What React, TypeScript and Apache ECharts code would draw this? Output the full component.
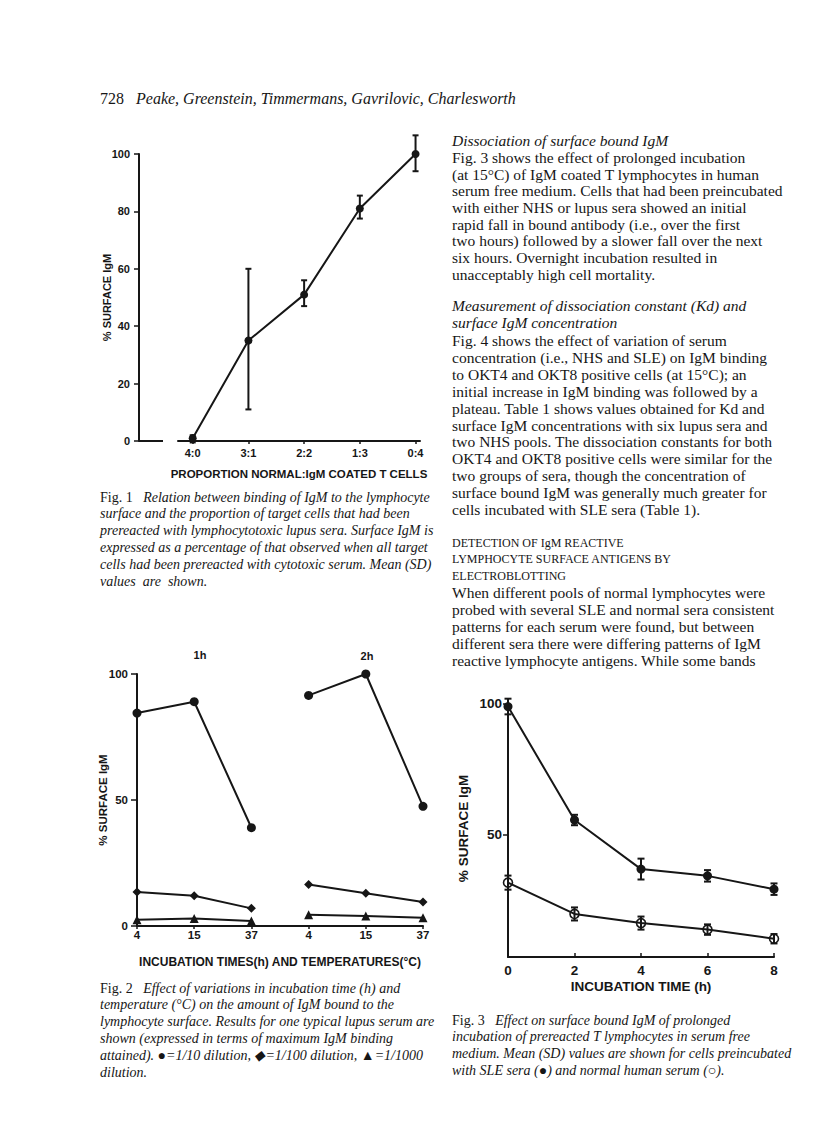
import React, { useEffect, useRef } from "react";
import * as echarts from "echarts";

// ---------- Fig. 1 data ----------
const fig1Categories = ["4:0", "3:1", "2:2", "1:3", "0:4"];
const fig1Mean = [1, 35, 51, 81, 100];
const fig1Low = [-0.5, 11, 47, 77.5, 94];
const fig1High = [2, 60, 56, 85.5, 106.5];
const fig1Positions = [0, 1, 2, 3, 4];

// ---------- Fig. 2 data ----------
const fig2Temps = ["4", "15", "37", "4", "15", "37"];
const fig2Circle1h = [84.5, 89, 39];
const fig2Circle2h = [91.5, 100, 47.5];
const fig2Diamond1h = [13.5, 12, 7];
const fig2Diamond2h = [16.5, 13, 9.5];
const fig2Triangle1h = [2.5, 3, 2];
const fig2Triangle2h = [4.5, 4, 3.3];

// ---------- Fig. 3 data ----------
const fig3Hours = [0, 2, 4, 6, 8];
const fig3SLEMean = [99, 55.5, 36.7, 34.1, 29];
const fig3SLESD = [3, 2, 4, 2.2, 2.2];
const fig3NHSMean = [31.5, 19.5, 16, 13.5, 10];
const fig3NHSSD = [2.7, 2.5, 2.5, 2, 1.8];
const fig3YTicks = [50, 100];

// ---------- page text ----------
const header = "{n|728}   Peake, Greenstein, Timmermans, Gavrilovic, Charlesworth";

const fig1Caption = [
  "{n|Fig. 1}   Relation between binding of IgM to the lymphocyte",
  "surface and the proportion of target cells that had been",
  "prereacted with lymphocytotoxic lupus sera. Surface IgM is",
  "expressed as a percentage of that observed when all target",
  "cells had been prereacted with cytotoxic serum. Mean (SD)",
  "values  are  shown.",
];
const fig2Caption = [
  "{n|Fig. 2}   Effect of variations in incubation time (h) and",
  "temperature (°C) on the amount of IgM bound to the",
  "lymphocyte surface. Results for one typical lupus serum are",
  "shown (expressed in terms of maximum IgM binding",
  "attained). ●=1/10 dilution, ◆=1/100 dilution, ▲=1/1000",
  "dilution.",
];
const fig3Caption = [
  "{n|Fig. 3}   Effect on surface bound IgM of prolonged",
  "incubation of prereacted T lymphocytes in serum free",
  "medium. Mean (SD) values are shown for cells preincubated",
  "with SLE sera (●) and normal human serum (○).",
];

type Line = { t: string; y: number; kind: "body" | "italic" | "caps" };
const bodyLines: Line[] = [
  { t: "Dissociation of surface bound IgM", y: 140, kind: "italic" },
  { t: "Fig. 3 shows the effect of prolonged incubation", y: 157, kind: "body" },
  { t: "(at 15°C) of IgM coated T lymphocytes in human", y: 174, kind: "body" },
  { t: "serum free medium. Cells that had been preincubated", y: 190, kind: "body" },
  { t: "with either NHS or lupus sera showed an initial", y: 207, kind: "body" },
  { t: "rapid fall in bound antibody (i.e., over the first", y: 224, kind: "body" },
  { t: "two hours) followed by a slower fall over the next", y: 240, kind: "body" },
  { t: "six hours. Overnight incubation resulted in", y: 257, kind: "body" },
  { t: "unacceptably high cell mortality.", y: 274, kind: "body" },
  { t: "Measurement of dissociation constant (Kd) and", y: 305, kind: "italic" },
  { t: "surface IgM concentration", y: 322, kind: "italic" },
  { t: "Fig. 4 shows the effect of variation of serum", y: 340, kind: "body" },
  { t: "concentration (i.e., NHS and SLE) on IgM binding", y: 357, kind: "body" },
  { t: "to OKT4 and OKT8 positive cells (at 15°C); an", y: 374, kind: "body" },
  { t: "initial increase in IgM binding was followed by a", y: 391, kind: "body" },
  { t: "plateau. Table 1 shows values obtained for Kd and", y: 408, kind: "body" },
  { t: "surface IgM concentrations with six lupus sera and", y: 425, kind: "body" },
  { t: "two NHS pools. The dissociation constants for both", y: 441, kind: "body" },
  { t: "OKT4 and OKT8 positive cells were similar for the", y: 458, kind: "body" },
  { t: "two groups of sera, though the concentration of", y: 475, kind: "body" },
  { t: "surface bound IgM was generally much greater for", y: 492, kind: "body" },
  { t: "cells incubated with SLE sera (Table 1).", y: 509, kind: "body" },
  { t: "DETECTION OF IgM REACTIVE", y: 543, kind: "caps" },
  { t: "LYMPHOCYTE SURFACE ANTIGENS BY", y: 559, kind: "caps" },
  { t: "ELECTROBLOTTING", y: 576, kind: "caps" },
  { t: "When different pools of normal lymphocytes were", y: 592, kind: "body" },
  { t: "probed with several SLE and normal sera consistent", y: 609, kind: "body" },
  { t: "patterns for each serum were found, but between", y: 626, kind: "body" },
  { t: "different sera there were differing patterns of IgM", y: 643, kind: "body" },
  { t: "reactive lymphocyte antigens. While some bands", y: 660, kind: "body" },
];

const INK = "#161616";
const SERIF = "'Liberation Serif', 'Times New Roman', serif";
const SANS = "'Liberation Sans', Arial, sans-serif";

const errorBar = (cap: number) => (params: any, api: any) => {
  const x = api.value(0);
  const lo = api.value(1);
  const hi = api.value(2);
  const a = api.coord([x, lo]);
  const b = api.coord([x, hi]);
  const style = { stroke: INK, lineWidth: 2 };
  return {
    type: "group",
    children: [
      { type: "line", shape: { x1: a[0], y1: a[1], x2: b[0], y2: b[1] }, style },
      { type: "line", shape: { x1: a[0] - cap, y1: a[1], x2: a[0] + cap, y2: a[1] }, style },
      { type: "line", shape: { x1: b[0] - cap, y1: b[1], x2: b[0] + cap, y2: b[1] }, style },
    ],
  };
};

const axisFont = (size: number) => ({
  color: INK,
  fontFamily: SANS,
  fontWeight: "bold" as const,
  fontSize: size,
});

function textEl(x: number, y: number, text: string, opts: any = {}) {
  return {
    type: "text",
    x,
    y,
    silent: true,
    style: {
      text,
      fill: INK,
      fontFamily: SERIF,
      fontSize: 15.5,
      align: "left",
      verticalAlign: "middle",
      ...opts,
    },
  };
}

function captionEls(x: number, y0: number, lines: string[]) {
  return lines.map((t, i) =>
    textEl(x, y0 + i * 16.8, t, {
      fontSize: 14,
      fontStyle: "italic",
      rich: { n: { fontStyle: "normal", fontSize: 14, fontFamily: SERIF, fill: INK } },
    })
  );
}

export default function App() {
  const ref = useRef<HTMLDivElement>(null);
  useEffect(() => {
    if (!ref.current) return;
    const chart = echarts.init(ref.current, undefined, { renderer: "svg" });

    const lineBase = (xi: number, data: any[], symbol: string, size: number) => ({
      type: "line",
      xAxisIndex: xi,
      yAxisIndex: xi,
      data,
      symbol,
      symbolSize: size,
      lineStyle: { color: INK, width: 2 },
      itemStyle: { color: INK },
      z: 3,
    });

    const graphic: any[] = [];
    graphic.push(
      textEl(100, 98, header, {
        fontStyle: "italic",
        fontSize: 16,
        rich: { n: { fontStyle: "normal", fontSize: 16, fontFamily: SERIF, fill: INK } },
      })
    );
    // short baseline stub beside the Fig. 1 y axis
    graphic.push({
      type: "line",
      silent: true,
      shape: { x1: 139, y1: 441, x2: 163, y2: 441 },
      style: { stroke: INK, lineWidth: 2 },
    });
    graphic.push(textEl(200, 655, "1h", { fontFamily: SANS, fontWeight: "bold", fontSize: 11, align: "center" }));
    graphic.push(textEl(367, 656, "2h", { fontFamily: SANS, fontWeight: "bold", fontSize: 11, align: "center" }));
    graphic.push(...captionEls(100, 497, fig1Caption));
    graphic.push(...captionEls(100, 988, fig2Caption));
    graphic.push(...captionEls(452, 1020, fig3Caption));
    bodyLines.forEach((l) => {
      if (l.kind === "body") graphic.push(textEl(452, l.y, l.t));
      else if (l.kind === "italic") graphic.push(textEl(452, l.y, l.t, { fontStyle: "italic" }));
      else graphic.push(textEl(452, l.y, l.t, { fontSize: 12 }));
    });

    const yName = (gap: number, size: number) => ({
      name: "% SURFACE IgM",
      nameLocation: "middle",
      nameRotate: 90,
      nameGap: gap,
      nameMoveOverlap: false,
      nameTextStyle: axisFont(size),
    });

    const option: any = {
      animation: false,
      backgroundColor: "#ffffff",
      grid: [
        { left: 178, right: 396, top: 154, bottom: 703 },
        { left: 137, right: 393, top: 674, bottom: 218 },
        { left: 508, right: 42, top: 700, bottom: 187 },
      ],
      xAxis: [
        {
          type: "value",
          gridIndex: 0,
          min: -0.264,
          max: 4.08,
          axisLine: { onZero: false, lineStyle: { color: INK, width: 2 } },
          axisTick: { customValues: fig1Positions, length: 3, lineStyle: { color: INK, width: 1.5 } },
          axisLabel: {
            customValues: fig1Positions,
            formatter: (v: number) => fig1Categories[Math.round(v)],
            margin: 6,
            ...axisFont(11),
          },
          splitLine: { show: false },
          name: "PROPORTION NORMAL:IgM COATED T CELLS",
          nameLocation: "middle",
          nameGap: 27,
          nameMoveOverlap: false,
          nameTextStyle: axisFont(11.5),
        },
        {
          type: "category",
          gridIndex: 1,
          data: fig2Temps,
          boundaryGap: false,
          axisLine: { onZero: false, lineStyle: { color: INK, width: 2 } },
          axisTick: { length: 3, lineStyle: { color: INK, width: 1.5 } },
          axisLabel: { margin: 3, interval: 0, ...axisFont(11.5) },
          name: "INCUBATION TIMES(h) AND TEMPERATURES(°C)",
          nameLocation: "middle",
          nameGap: 30,
          nameMoveOverlap: false,
          nameTextStyle: axisFont(12),
        },
        {
          type: "value",
          gridIndex: 2,
          min: 0,
          max: 8,
          interval: 2,
          axisLine: { onZero: false, lineStyle: { color: INK, width: 2 } },
          axisTick: { inside: true, length: 4, lineStyle: { color: INK, width: 1.5 } },
          axisLabel: { margin: 6, ...axisFont(13.5) },
          splitLine: { show: false },
          name: "INCUBATION TIME (h)",
          nameLocation: "middle",
          nameGap: 22,
          nameMoveOverlap: false,
          nameTextStyle: axisFont(13.5),
        },
      ],
      yAxis: [
        {
          type: "value",
          gridIndex: 0,
          min: 0,
          max: 100,
          interval: 20,
          offset: 39,
          axisLine: { show: true, onZero: false, lineStyle: { color: INK, width: 2 } },
          axisTick: { show: true, length: 5, lineStyle: { color: INK, width: 1.5 } },
          axisLabel: { margin: 9, ...axisFont(11) },
          splitLine: { show: false },
          ...yName(27, 11),
        },
        {
          type: "value",
          gridIndex: 1,
          min: 0,
          max: 100,
          interval: 50,
          axisLine: { show: true, onZero: false, lineStyle: { color: INK, width: 2 } },
          axisTick: { show: true, length: 6, lineStyle: { color: INK, width: 1.5 } },
          axisLabel: { margin: 9, ...axisFont(11.5) },
          splitLine: { show: false },
          ...yName(28, 11.5),
        },
        {
          type: "value",
          gridIndex: 2,
          min: 3,
          max: 101.5,
          axisLine: { show: true, onZero: false, lineStyle: { color: INK, width: 2 } },
          axisTick: { show: true, customValues: fig3YTicks, length: 5, lineStyle: { color: INK, width: 1.5 } },
          axisLabel: { customValues: fig3YTicks, margin: 6, ...axisFont(13.5) },
          splitLine: { show: false },
          ...yName(38, 13.5),
        },
      ],
      series: [
        // Fig. 1
        {
          type: "custom",
          xAxisIndex: 0,
          yAxisIndex: 0,
          renderItem: errorBar(3),
          data: fig1Positions.map((p, i) => [p, fig1Low[i], fig1High[i]]),
          encode: { x: 0, y: [1, 2] },
          z: 2,
        },
        lineBase(0, fig1Positions.map((p, i) => [p, fig1Mean[i]]), "circle", 8),
        // Fig. 2
        lineBase(1, fig2Circle1h.map((v, i) => [i, v]), "circle", 9),
        lineBase(1, fig2Circle2h.map((v, i) => [i + 3, v]), "circle", 9),
        lineBase(1, fig2Diamond1h.map((v, i) => [i, v]), "diamond", 9),
        lineBase(1, fig2Diamond2h.map((v, i) => [i + 3, v]), "diamond", 9),
        lineBase(1, fig2Triangle1h.map((v, i) => [i, v]), "triangle", 9),
        lineBase(1, fig2Triangle2h.map((v, i) => [i + 3, v]), "triangle", 9),
        // Fig. 3
        {
          type: "custom",
          xAxisIndex: 2,
          yAxisIndex: 2,
          renderItem: errorBar(3.5),
          data: fig3Hours.map((h, i) => [h, fig3SLEMean[i] - fig3SLESD[i], fig3SLEMean[i] + fig3SLESD[i]]),
          encode: { x: 0, y: [1, 2] },
          z: 2,
        },
        {
          type: "custom",
          xAxisIndex: 2,
          yAxisIndex: 2,
          renderItem: errorBar(3.5),
          data: fig3Hours.map((h, i) => [h, fig3NHSMean[i] - fig3NHSSD[i], fig3NHSMean[i] + fig3NHSSD[i]]),
          encode: { x: 0, y: [1, 2] },
          z: 2,
        },
        lineBase(2, fig3Hours.map((h, i) => [h, fig3SLEMean[i]]), "circle", 9),
        {
          ...lineBase(2, fig3Hours.map((h, i) => [h, fig3NHSMean[i]]), "circle", 9),
          itemStyle: { color: "rgba(255,255,255,0)", borderColor: INK, borderWidth: 1.6 },
        },
      ],
      graphic,
    };

    chart.setOption(option);
    return () => chart.dispose();
  }, []);

  return (
    <div
      ref={ref}
      style={{ position: "absolute", left: 0, top: 0, width: 816, height: 1144, background: "#fff" }}
    />
  );
}
